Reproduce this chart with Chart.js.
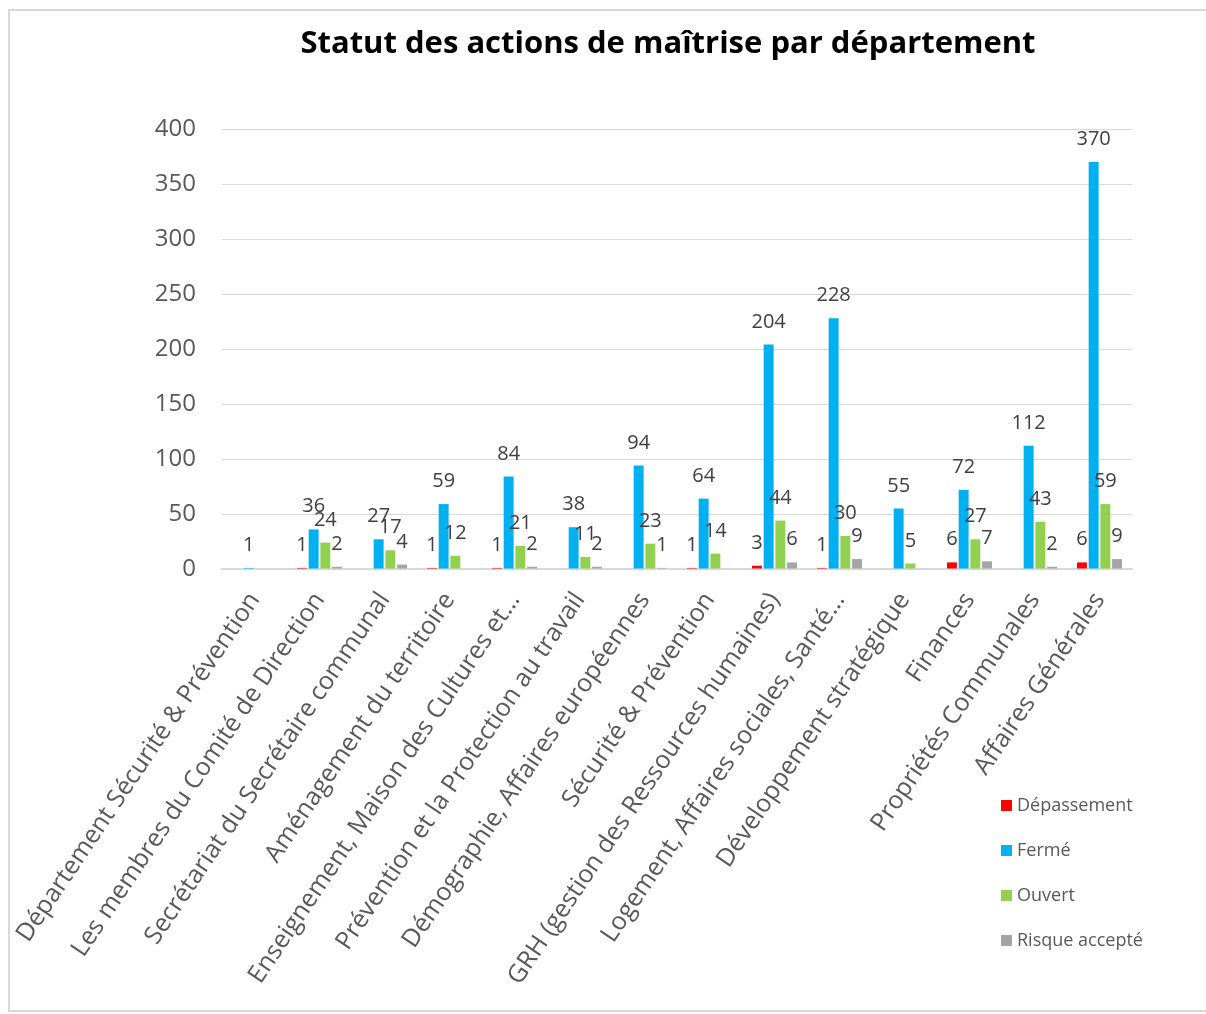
<!DOCTYPE html>
<html lang="fr">
<head>
<meta charset="utf-8">
<title>Statut des actions de maîtrise par département</title>
<script src="https://cdn.jsdelivr.net/npm/chart.js@4"></script>
<style>
  html, body { margin: 0; padding: 0; background: #fff; overflow: hidden; }
  #wrap { position: relative; width: 1206px; height: 1014px; }
  #frame { position: absolute; left: 8px; top: 9px; width: 1204px; height: 1003px; border: 2px solid #d9d9d9; box-sizing: border-box; }
  #title { position: absolute; left: 168px; width: 1000px; top: 20px; text-align: center;
           font-family: "Open Sans", sans-serif; font-weight: bold; font-size: 31px; color: #000; }
  #legend { position: absolute; left: 1001px; top: 792px; font-family: "Open Sans", sans-serif; font-size: 18px; color: #595959; }
  #legend div { height: 45px; display: flex; align-items: flex-start; }
  #legend span.box { display: inline-block; width: 11px; height: 11px; margin: 8px 5px 0 0; }
  canvas { position: absolute; left: 0; top: 0; }
</style>
</head>
<body>
<div id="wrap">
  <div id="frame"></div>
  <canvas id="chart" width="1206" height="1014"></canvas>
  <div id="title">Statut des actions de maîtrise par département</div>
  <div id="legend"></div>
</div>
<script>
document.addEventListener("DOMContentLoaded", function () {
    // categories (departments)
    const departements = [
        "Département Sécurité & Prévention",
        "Les membres du Comité de Direction",
        "Secrétariat du Secrétaire communal",
        "Aménagement du territoire",
        "Enseignement, Maison des Cultures et…",
        "Prévention et la Protection au travail",
        "Démographie, Affaires européennes",
        "Sécurité & Prévention",
        "GRH (gestion des Ressources humaines)",
        "Logement, Affaires sociales, Santé…",
        "Développement stratégique",
        "Finances",
        "Propriétés Communales",
        "Affaires Générales"
    ];

    // series values (null = no bar / no label)
    const depassement = [null, 1, null, 1, 1, null, null, 1, 3, 1, null, 6, null, 6];
    const ferme = [1, 36, 27, 59, 84, 38, 94, 64, 204, 228, 55, 72, 112, 370];
    const ouvert = [null, 24, 17, 12, 21, 11, 23, 14, 44, 30, 5, 27, 43, 59];
    const risqueAccepte = [null, 2, 4, null, 2, 2, 1, null, 6, 9, null, 7, 2, 9];

    const seriesNames = ["Dépassement", "Fermé", "Ouvert", "Risque accepté"];
    const seriesColors = ["#FF0000", "#00B0F0", "#92D050", "#A5A5A5"];

    // y axis ticks
    const yMin = 0;
    const yMax = 400;
    const yStep = 50;

    const font = "'Open Sans', sans-serif";

    // value labels above bars
    const valueLabels = {
        id: "valueLabels",
        afterDatasetsDraw(chart) {
            const ctx = chart.ctx;
            ctx.save();
            ctx.font = "20px " + font;
            ctx.fillStyle = "#404040";
            ctx.textAlign = "center";
            ctx.textBaseline = "alphabetic";
            chart.data.datasets.forEach(function (ds, i) {
                const meta = chart.getDatasetMeta(i);
                meta.data.forEach(function (bar, j) {
                    const v = ds.data[j];
                    if (v === null || v === undefined) return;
                    ctx.fillText(String(v), bar.x, bar.y - 17);
                });
            });
            ctx.restore();
        }
    };

    const allSeries = [depassement, ferme, ouvert, risqueAccepte];
    const datasets = allSeries.map(function (values, i) {
        return {
            label: seriesNames[i],
            data: values,
            backgroundColor: seriesColors[i],
            borderWidth: 0,
            barPercentage: 0.85,
            categoryPercentage: 0.72
        };
    });

    const ctx = document.getElementById("chart").getContext("2d");
    new Chart(ctx, {
        type: "bar",
        data: { labels: departements, datasets: datasets },
        options: {
            responsive: false,
            animation: false,
            layout: { padding: { top: 129, left: 8, right: 74, bottom: 0 } },
            plugins: {
                legend: { display: false },
                title: { display: false },
                tooltip: { enabled: false }
            },
            scales: {
                x: {
                    grid: { display: false },
                    border: { display: true, color: "#d9d9d9", width: 2 },
                    ticks: {
                        autoSkip: false,
                        minRotation: 56,
                        maxRotation: 56,
                        padding: 10,
                        color: "#595959",
                        font: { family: font, size: 25 }
                    },
                    afterFit(scale) {
                        scale.height = 445;
                        scale.paddingLeft = 0;
                        scale.paddingRight = 0;
                    }
                },
                y: {
                    min: yMin,
                    max: yMax,
                    grid: { color: "#d9d9d9", lineWidth: 1, drawTicks: false },
                    border: { display: false },
                    ticks: {
                        stepSize: yStep,
                        padding: 26,
                        color: "#595959",
                        font: { family: font, size: 24 }
                    },
                    afterFit(scale) {
                        scale.width = 214;
                    }
                }
            }
        },
        plugins: [valueLabels]
    });

    // legend, vertical at bottom right
    const legend = document.getElementById("legend");
    seriesNames.forEach(function (name, i) {
        const row = document.createElement("div");
        const box = document.createElement("span");
        box.className = "box";
        box.style.background = seriesColors[i];
        row.appendChild(box);
        row.appendChild(document.createTextNode(name));
        legend.appendChild(row);
    });
});
</script>
</body>
</html>
